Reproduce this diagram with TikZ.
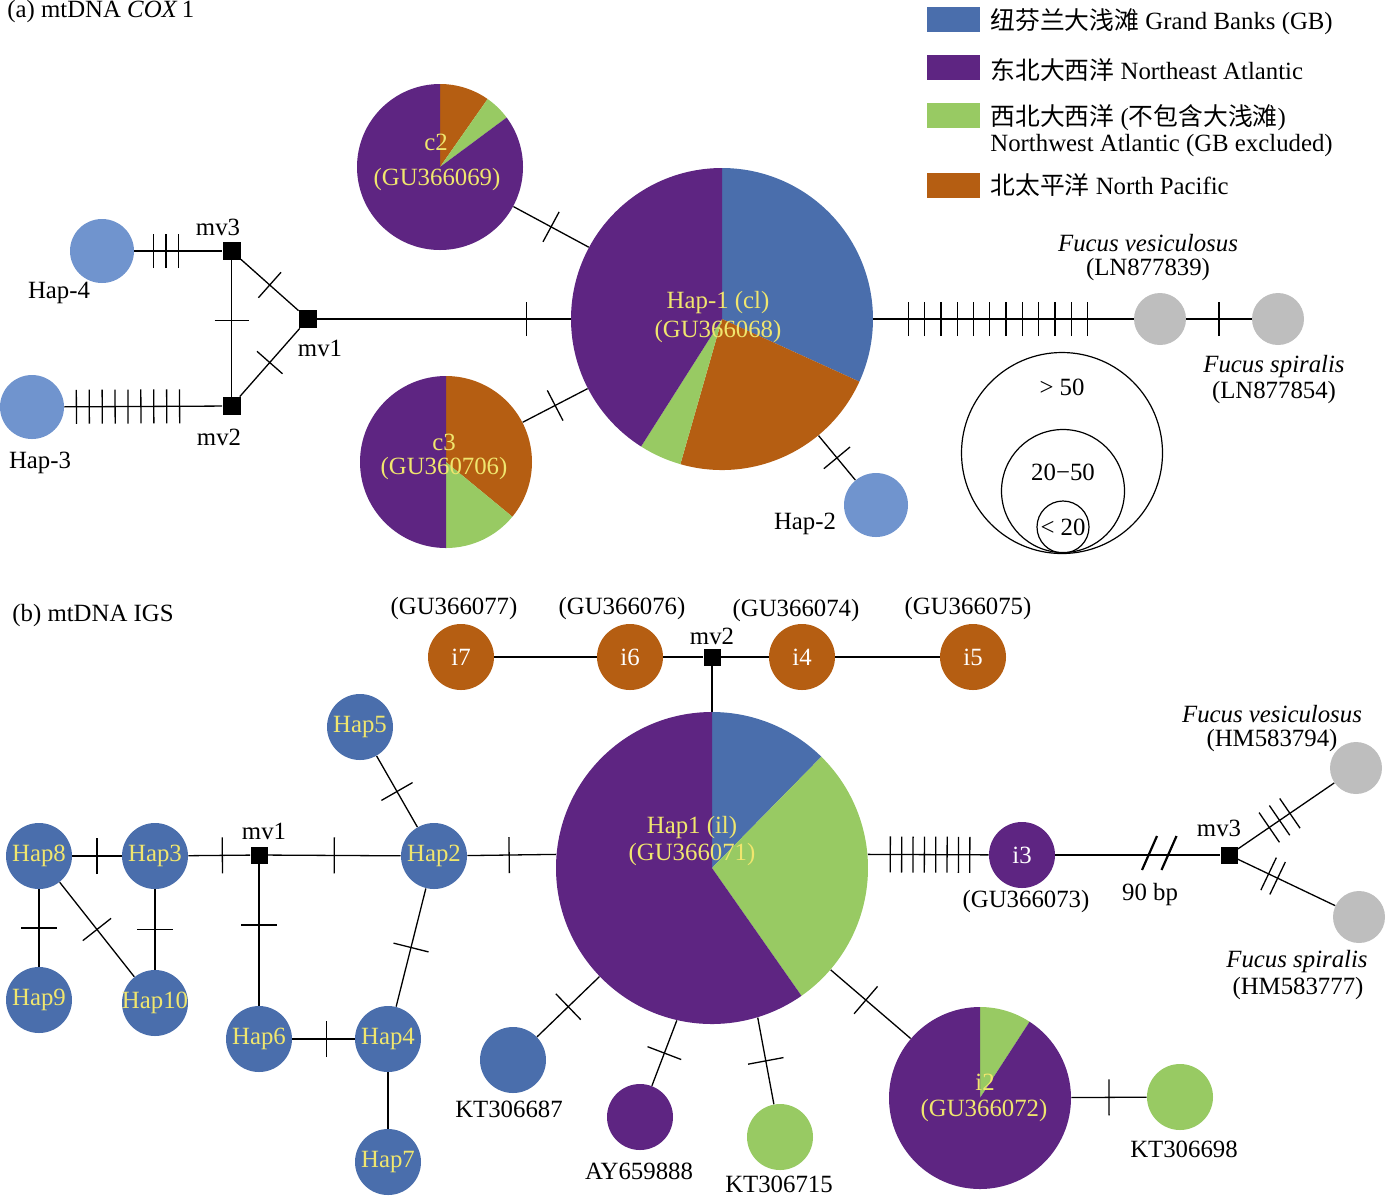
\documentclass[tikz,border=0pt]{standalone}
\usepackage{fontspec}
\setmainfont{Liberation Serif}
\newfontfamily\cjk{Noto Sans CJK SC}
\usetikzlibrary{decorations.markings}
\definecolor{cGB}{RGB}{74,110,172}
\definecolor{cNE}{RGB}{94,37,130}
\definecolor{cNW}{RGB}{152,202,99}
\definecolor{cNP}{RGB}{181,94,18}
\definecolor{cLB}{RGB}{112,148,206}
\definecolor{cGr}{RGB}{190,190,190}
\definecolor{cYe}{RGB}{240,230,110}
\newcommand\fs{\fontsize{12.4pt}{14.5pt}\selectfont}
\newcommand\myslice[5]{\fill[#5] (#1.center) -- ++(#3:#2) arc[start angle=#3, end angle=#4, radius=#2] -- cycle;}
\tikzset{ticklen/.store in=\tkl, ticklen=8.5pt}
\begin{document}
\begin{tikzpicture}[x=0.5pt,y=0.5pt,
  every node/.append style={font=\fs, inner sep=0pt},
  rad/.style={circle,inner sep=0pt,minimum size=#1pt},
  mv/.style={rectangle,fill=black,inner sep=0pt,minimum size=9pt},
  ln/.style={line width=0.65pt},
  tickline/.style={line width=0.65pt},
  tk/.style={postaction={decorate,decoration={markings,mark=at position #1 with {\draw[tickline] (0,-\tkl) -- (0,\tkl);}}}},
  tk/.default=0.5,
  tks/.style n args={3}{postaction={decorate,decoration={markings,mark=between positions #1 and #2 step #3 with {\draw[tickline] (0,-\tkl) -- (0,\tkl);}}}},
  yel/.style={text=cYe},
  legbox/.style={rectangle,inner sep=0pt,minimum width=26.5pt,minimum height=12.5pt},
  hapb/.style={rad=33,fill=cGB,text=cYe},
  inode/.style={rad=33,fill=cNP,text=white},
  slash/.style={line width=1.1pt},
  sizec/.style={rad=#1,draw,line width=0.6pt}
]
\useasboundingbox (0,0) rectangle (1386,-1196);

% ---------------- (a) ----------------
\node[anchor=west] (ta) at (7,-12) {(a) mtDNA \textit{COX}\,1};

% legend
\node[legbox,fill=cGB] (lb1) at (953.5,-19.5) {};
\node[legbox,fill=cNE] (lb2) at (953.5,-67.5) {};
\node[legbox,fill=cNW] (lb3) at (953.5,-115.5) {};
\node[legbox,fill=cNP] (lb4) at (953.5,-185.5) {};
\node[anchor=west] (lt1) at (990,-22) {{\cjk 纽芬兰大浅滩} Grand Banks (GB)};
\node[anchor=west] (lt2) at (990,-70) {{\cjk 东北大西洋} Northeast Atlantic};
\node[anchor=west] (lt3) at (990,-118) {{\cjk 西北大西洋} ({\cjk 不包含大浅滩})};
\node[anchor=west] (lt3b) at (990,-146) {Northwest Atlantic (GB excluded)};
\node[anchor=west] (lt4) at (990,-185) {{\cjk 北太平洋} North Pacific};

% nodes
\node[rad=32,fill=cLB] (hap4) at (102,-251) {};
\node[rad=32,fill=cLB] (hap3) at (32,-407) {};
\node[mv] (mv3a) at (231.5,-251) {};
\node[mv] (mv2a) at (231.5,-406) {};
\node[mv] (mv1a) at (308,-319) {};
\node[rad=151] (H1a) at (722,-319) {};
\node[rad=83] (c2) at (440,-167) {};
\node[rad=86] (c3) at (446,-462) {};
\node[rad=32,fill=cLB] (hap2a) at (876,-505) {};
\node[rad=26,fill=cGr] (fva) at (1160,-319) {};
\node[rad=26,fill=cGr] (fsa) at (1278,-319) {};

% pies
\myslice{H1a}{151}{-24.5}{90}{cGB}
\myslice{H1a}{151}{-106}{-24.5}{cNP}
\myslice{H1a}{151}{-122.4}{-106}{cNW}
\myslice{H1a}{151}{90}{237.6}{cNE}
\myslice{c2}{83}{55}{90}{cNP}
\myslice{c2}{83}{36.6}{55}{cNW}
\myslice{c2}{83}{90}{396.6}{cNE}
\myslice{c3}{86}{-39.5}{90}{cNP}
\myslice{c3}{86}{-90}{-39.5}{cNW}
\myslice{c3}{86}{90}{270}{cNE}

% connectors
\draw[ln,tks={9.5pt}{23pt}{6.25pt}] (hap4) -- (mv3a);
\draw[ln,tks={6pt}{58pt}{6.45pt}] (hap3) -- (mv2a);
\draw[ln,tk=0.44] (mv3a) -- (mv2a);
\draw[ln,tk] (mv3a) -- (mv1a);
\draw[ln,tk] (mv2a) -- (mv1a);
\draw[ln,tk=0.827] (mv1a) -- (H1a);
\draw[ln,tk] (c2) -- (H1a);
\draw[ln,tk] (c3) -- (H1a);
\draw[ln,tk] (H1a) -- (hap2a);
\draw[ln,tks={17.5pt}{108pt}{8.14pt}] (H1a) -- (fva);
\draw[ln,tk] (fva) -- (fsa);

% labels
\node (lmv3a) at (218,-227) {mv3};
\node (lmv2a) at (219,-437) {mv2};
\node (lmv1a) at (320,-348) {mv1};
\node (lhap4) at (59,-293) {Hap-4};
\node (lhap3) at (40,-463) {Hap-3};
\node (lhap2a) at (805,-524) {Hap-2};
\node[yel] (tH1a) at (718,-303) {Hap-1 (cl)};
\node[yel] (tH1b) at (718,-332) {(GU366068)};
\node[yel] (tc2a) at (436,-142) {c2};
\node[yel] (tc2b) at (437,-180) {(GU366069)};
\node[yel] (tc3a) at (444,-442) {c3};
\node[yel] (tc3b) at (444,-469) {(GU360706)};
\node (lfva) at (1148,-243) {\textit{Fucus vesiculosus}};
\node (lfvb) at (1148,-270) {(LN877839)};
\node (lfsa) at (1274,-367) {\textit{Fucus spiralis}};
\node (lfsb) at (1274,-393) {(LN877854)};

% size legend
\node[sizec=100.5] (s1) at (1062,-453) {};
\node[sizec=61.5] (s2) at (1063,-491) {};
\node[sizec=26] (s3) at (1063,-527) {};
\node (ls1) at (1062,-387) {> 50};
\node (ls2) at (1063,-472) {20−50};
\node (ls3) at (1063,-527) {< 20};

% ---------------- (b) ----------------
\begin{scope}[ticklen=9pt]
\node[anchor=west] (tb) at (12,-616) {(b) mtDNA IGS};

\node[inode] (i7) at (461,-657) {i7};
\node[inode] (i6) at (630,-657) {i6};
\node[mv,minimum size=8.5pt] (mv2b) at (712,-657) {};
\node[inode] (i4) at (802,-657) {i4};
\node[inode] (i5) at (973,-657) {i5};
\node (gu77) at (454,-609) {(GU366077)};
\node (gu76) at (622,-609) {(GU366076)};
\node (gu74) at (796,-611) {(GU366074)};
\node (gu75) at (968,-609) {(GU366075)};
\node (lmv2b) at (712,-636) {mv2};

\node[rad=156] (H1b) at (712,-868) {};
\myslice{H1b}{156}{45.5}{90}{cGB}
\myslice{H1b}{156}{-55}{45.5}{cNW}
\myslice{H1b}{156}{90}{305}{cNE}

\node[hapb] (Hap5) at (360,-727) {Hap5};
\node[hapb] (Hap8) at (39,-856) {Hap8};
\node[hapb] (Hap3) at (155,-856) {Hap3};
\node[mv,minimum size=8.5pt] (mv1b) at (259,-855) {};
\node[hapb] (Hap2) at (434,-856) {Hap2};
\node[hapb] (Hap9) at (39,-1000) {Hap9};
\node[hapb] (Hap10) at (155,-1003) {\makebox[0pt]{Hap10}};
\node[hapb] (Hap6) at (259,-1039) {Hap6};
\node[hapb] (Hap4) at (388,-1039) {Hap4};
\node[hapb] (Hap7) at (388,-1162) {Hap7};
\node (lmv1b) at (264,-831) {mv1};

\node[rad=33,fill=cNE,text=white] (i3) at (1022,-855) {i3};
\node[mv,minimum size=8.5pt] (mv3b) at (1229,-855) {};
\node[rad=26,fill=cGr] (fvb) at (1356,-768) {};
\node[rad=26,fill=cGr] (fsb) at (1359,-917) {};
\node (gu73) at (1026,-902) {(GU366073)};
\node (bp) at (1150,-895) {90 bp};
\node (lmv3b) at (1219,-828) {mv3};
\node (lfvc) at (1272,-714) {\textit{Fucus vesiculosus}};
\node (lfvd) at (1272,-741) {(HM583794)};
\node (lfsc) at (1297,-962) {\textit{Fucus spiralis}};
\node (lfsd) at (1298,-989) {(HM583777)};

\node[rad=33,fill=cGB] (kt687) at (513,-1060) {};
\node[rad=33,fill=cNE] (ay) at (640,-1117) {};
\node[rad=33,fill=cNW] (kt715) at (780,-1137) {};
\node[rad=91] (i2) at (980,-1098) {};
\myslice{i2}{91}{57}{90}{cNW}
\myslice{i2}{91}{90}{417}{cNE}
\node[rad=33,fill=cNW] (kt698) at (1180,-1097) {};
\node (lkt687) at (509,-1109) {KT306687};
\node (lay) at (639,-1171) {AY659888};
\node (lkt715) at (779,-1184) {KT306715};
\node (lkt698) at (1184,-1149) {KT306698};

% connectors
\draw[ln] (i7) -- (i6);
\draw[ln] (i6) -- (mv2b);
\draw[ln] (mv2b) -- (i4);
\draw[ln] (i4) -- (i5);
\draw[ln] (mv2b) -- (H1b);
\draw[ln,tk] (Hap8) -- (Hap3);
\draw[ln,tk=0.55] (Hap3) -- (mv1b);
\draw[ln,tk] (mv1b) -- (Hap2);
\draw[ln,tk=0.47] (Hap2) -- (H1b.175);
\draw[ln,tk] (Hap8) -- (Hap9);
\draw[ln,tk] (Hap8) -- (Hap10);
\draw[ln,tk] (Hap3) -- (Hap10);
\draw[ln,tk=0.43] (mv1b) -- (Hap6);
\draw[ln,tk=0.55] (Hap6) -- (Hap4);
\draw[ln,tk] (Hap2) -- (Hap4);
\draw[ln,tk] (Hap5) -- (Hap2);
\draw[ln] (Hap4) -- (Hap7);
\draw[ln,tks={11.25pt}{52pt}{5.68pt}] (H1b.5) -- (i3);
\draw[ln] (i3) -- (mv3b);
\coordinate (br1) at (1149.5,-853);
\coordinate (br2) at (1169,-853);
\draw[slash,shift={(br1)}] (-7.5,-17) -- (7.5,17);
\draw[slash,shift={(br2)}] (-7.5,-17) -- (7.5,17);
\draw[ln,tks={19pt}{32pt}{6.25pt}] (mv3b) -- (fvb);
\draw[ln,tks={17pt}{22.5pt}{5pt}] (mv3b) -- (fsb);
\draw[ln,tk] (H1b) -- (kt687);
\draw[ln,tk] (H1b.257) -- (ay);
\draw[ln,tk] (H1b.287) -- (kt715);
\draw[ln,tk=0.44] (H1b) -- (i2);
\draw[ln,tk] (i2) -- (kt698);

\node[yel] (tH1c) at (692,-828) {Hap1 (il)};
\node[yel] (tH1d) at (692,-855) {(GU366071)};
\node[yel] (ti2a) at (985,-1082) {i2};
\node[yel] (ti2b) at (984,-1111) {(GU366072)};
\end{scope}
\end{tikzpicture}
\end{document}
